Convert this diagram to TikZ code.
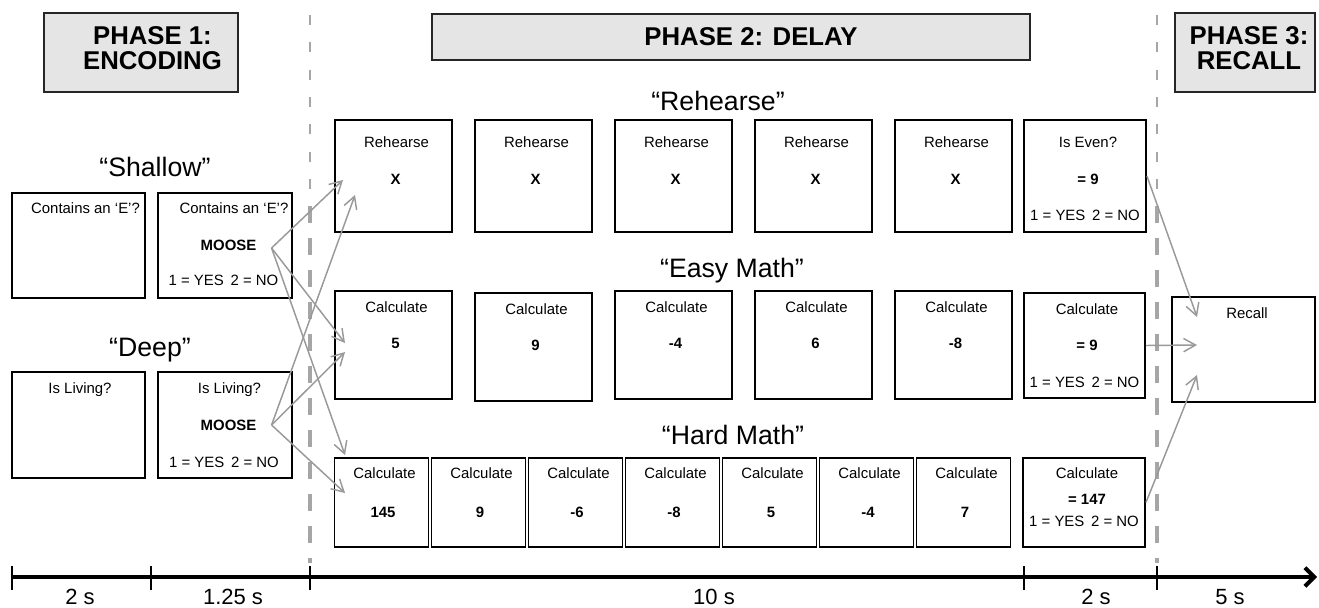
\documentclass[tikz,border=0pt]{standalone}
\usepackage{fontspec}
\setmainfont{Liberation Sans}
\usetikzlibrary{arrows.meta}
\definecolor{phasegray}{gray}{0.9}
\definecolor{linkgray}{gray}{0.6}
\definecolor{dashgray}{gray}{0.65}
\tikzset{
  tbox/.style 2 args={draw, line width=1.4pt, inner sep=0pt, minimum width=#1*0.75pt, minimum height=#2*0.75pt},
  pbox/.style 2 args={draw=black!85, line width=1pt, fill=phasegray, inner sep=0pt, minimum width=#1*0.75pt, minimum height=#2*0.75pt},
  phasetxt/.style={font=\fontsize{19.3}{18.8}\selectfont\bfseries, align=center, inner sep=0pt},
  condtxt/.style={font=\fontsize{20}{24}\selectfont, inner sep=0pt, text height=14.3pt, text depth=0pt},
  boxtxt/.style={font=\fontsize{11.2}{13}\selectfont, inner sep=0pt, text height=8pt, text depth=0pt},
  boldtxt/.style={boxtxt, font=\fontsize{11.2}{13}\selectfont\bfseries},
  timetxt/.style={font=\fontsize{16.5}{18}\selectfont, anchor=base, inner sep=0pt},
  link/.style={draw=linkgray, line width=1.1pt, -{Straight Barb[length=9pt,width=10pt]}},
  thindash/.style={draw=dashgray, line width=2.2pt, dash pattern=on 7.5pt off 13pt},
  thickdash/.style={draw=dashgray, line width=3pt, dash pattern=on 12.5pt off 11.5pt},
}
\newcommand{\yesno}{1 = YES\hspace{0.45em}2 = NO}
\begin{document}
\begin{tikzpicture}[x=0.75pt,y=-0.75pt]
  \useasboundingbox (0,0) rectangle (1319,607);

  % phase borders
  \draw[thindash] (310,15) -- (310,200);
  \draw[thickdash] (310,206) -- (310,563);
  \draw[thindash] (1157,15) -- (1157,200);
  \draw[thickdash] (1157,206) -- (1157,563);

  % phase headers
  \node[pbox={194}{79}] (ph1) at (141,52.5) {};
  \node[phasetxt] (ph1-t) at (152.5,48) {PHASE 1:\\ENCODING};
  \node[pbox={598}{46}] (ph2) at (731,37) {};
  \node[phasetxt] (ph2-t) at (751,37) {PHASE 2: DELAY};
  \node[pbox={140}{79}] (ph3) at (1245,52.5) {};
  \node[phasetxt] (ph3-t) at (1249,48) {PHASE 3:\\RECALL};

  % encoding
  \node[condtxt] (shallow) at (155,167) {“Shallow”};
  \node[tbox={133}{105}] (shq) at (78.5,245.5) {};
  \node[boxtxt] (shq-t) at (85.5,208) {Contains an ‘E’?};
  \node[tbox={134}{105}] (shw) at (225,245.5) {};
  \node[boxtxt] (shw-t) at (234,208) {Contains an ‘E’?};
  \node[boldtxt] (smoose) at (228.5,245) {MOOSE};
  \node[boxtxt] (shw-yn) at (223.5,280) {\yesno};

  \node[condtxt] (deep) at (150,347) {“Deep”};
  \node[tbox={133}{106}] (dpq) at (78.5,425) {};
  \node[boxtxt] (dpq-t) at (80,388) {Is Living?};
  \node[tbox={134}{106}] (dpw) at (225,425) {};
  \node[boxtxt] (dpw-t) at (229.5,388) {Is Living?};
  \node[boldtxt] (dmoose) at (228.5,425) {MOOSE};
  \node[boxtxt] (dpw-yn) at (224,462) {\yesno};

  % delay: rehearse
  \node[condtxt] (rehearse) at (718,101) {“Rehearse”};
  \foreach \i/\x in {1/393.5,2/533.5,3/673.5,4/813.5,5/953.5}{
    \node[tbox={117}{112}] (reh\i) at (\x,176) {};
    \node[boxtxt] (reh\i-t) at (\x+3,142) {Rehearse};
    \node[boldtxt] (reh\i-x) at (\x+2,179) {X};
  }
  \node[tbox={122}{112}] (even) at (1085,176) {};
  \node[boxtxt] (even-t) at (1088,142) {Is Even?};
  \node[boldtxt] (even-n) at (1088,179) {= 9};
  \node[boxtxt] (even-yn) at (1085,215) {\yesno};

  % delay: easy math
  \node[condtxt] (easy) at (732,268) {“Easy Math”};
  \foreach \i/\x/\y/\n in {1/393.5/345/5,2/533.5/347/9,3/673.5/345/-4,4/813.5/345/6,5/953.5/345/-8}{
    \node[tbox={117}{108}] (easy\i) at (\x,\y) {};
    \node[boxtxt] (easy\i-t) at (\x+3,\y-38) {Calculate};
    \node[boldtxt] (easy\i-n) at (\x+2,\y-2) {\n};
  }
  \node[tbox={121}{105}] (easyq) at (1084.5,345.5) {};
  \node[boxtxt] (easyq-t) at (1087,309) {Calculate};
  \node[boldtxt] (easyq-n) at (1087,345) {= 9};
  \node[boxtxt] (easyq-yn) at (1084.5,382) {\yesno};

  % delay: hard math
  \node[condtxt] (hard) at (733,435) {“Hard Math”};
  \foreach \i/\n in {1/145,2/9,3/-6,4/-8,5/5,6/-4,7/7}{
    \node[tbox={94}{89}] (hard\i) at (381.5+97*\i-97,502.5) {};
    \node[boxtxt] (hard\i-t) at (384.5+97*\i-97,473) {Calculate};
    \node[boldtxt] (hard\i-n) at (383+97*\i-97,512) {\n};
  }
  \node[tbox={122}{89}] (hardq) at (1084,502.5) {};
  \node[boxtxt] (hardq-t) at (1087,473) {Calculate};
  \node[boldtxt] (hardq-n) at (1087,499) {= 147};
  \node[boxtxt] (hardq-yn) at (1084,521) {\yesno};

  % recall
  \node[tbox={143}{105}] (recall) at (1243.5,349.5) {};
  \node[boxtxt] (recall-t) at (1247,313) {Recall};

  % links
  \path (smoose.east) ++(15,3) coordinate (sfork);
  \path (dmoose.east) ++(15,0) coordinate (dfork);
  \path (343,180) coordinate (toR1);
  \path (355,195) coordinate (toR2);
  \path (345,343) coordinate (toE1);
  \path (345,352) coordinate (toE2);
  \path (345,455) coordinate (toH1);
  \path (345,493) coordinate (toH2);
  \path (1197,317) coordinate (inRec1);
  \path (1197,345) coordinate (inRec2);
  \path (1197,375) coordinate (inRec3);
  \draw[link] (sfork) -- (toR1);
  \draw[link] (sfork) -- (toE1);
  \draw[link] (sfork) -- (toH1);
  \draw[link] (dfork) -- (toR2);
  \draw[link] (dfork) -- (toE2);
  \draw[link] (dfork) -- (toH2);
  \draw[link] (even.east) -- (inRec1);
  \draw[link] (easyq.east) -- (inRec2);
  \draw[link] (hardq.east) -- (inRec3);

  % time line
  \draw[line width=3pt, -{Straight Barb[length=7pt,width=14pt]}] (12,577) -- (1317,577);
  \foreach \t in {12,151,310,1024,1157}
    \draw[line width=2.2pt] (\t,566) -- (\t,590);
  \node[timetxt] (t1) at (80,604) {2 s};
  \node[timetxt] (t2) at (233,604) {1.25 s};
  \node[timetxt] (t3) at (714,604) {10 s};
  \node[timetxt] (t4) at (1096,604) {2 s};
  \node[timetxt] (t5) at (1230,604) {5 s};
\end{tikzpicture}
\end{document}
